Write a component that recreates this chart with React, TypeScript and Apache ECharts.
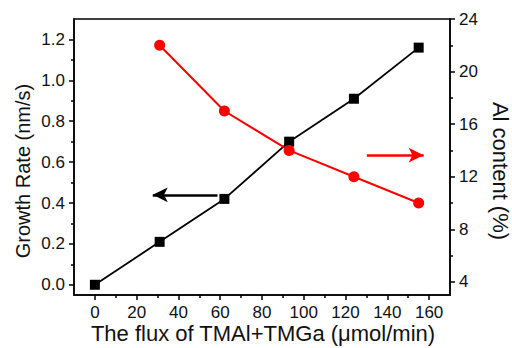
import React, { useEffect, useRef } from "react";
import * as echarts from "echarts";

const fluxGR = [0, 31, 62, 93, 124, 155];
const growthRate = [0, 0.21, 0.42, 0.7, 0.91, 1.16];
const fluxAl = [31, 62, 93, 124, 155];
const alContent = [22, 17, 14, 12, 10];

const xMajor = [0, 20, 40, 60, 80, 100, 120, 140, 160];
const xMinor = [10, 30, 50, 70, 90, 110, 130, 150];
const yLeftMajor = [0, 0.2, 0.4, 0.6, 0.8, 1.0, 1.2];
const yLeftMinor = [0.1, 0.3, 0.5, 0.7, 0.9, 1.1];
const yRightMajor = [4, 8, 12, 16, 20, 24];
const yRightMinor = [6, 10, 14, 18, 22];

const xTitle = "The flux of TMAl+TMGa (\u03bcmol/min)";
const yLeftTitle = "Growth Rate (nm/s)";
const yRightTitle = "Al content (%)";

// arrow annotations in data coordinates
const leftArrow = { from: [58.7, 0.44], to: [27.7, 0.44] };
const rightArrow = { from: [130.2, 13.64], to: [157.4, 13.64] };

const FONT = "'Liberation Sans', Arial, sans-serif";

export default function App() {
  const ref = useRef<HTMLDivElement>(null);
  useEffect(() => {
    if (!ref.current) return;
    const chart = echarts.init(ref.current, null, { renderer: "svg" });
    const axisLine = { show: true, onZero: false, lineStyle: { color: "#000", width: 1.5 } };
    const noLine = { show: false, onZero: false };
    const labelStyle = { fontSize: 17, color: "#111", fontFamily: FONT };
    const tickLine = { color: "#000", width: 1.5 };
    chart.setOption({
      animation: false,
      backgroundColor: "#fff",
      grid: {
        left: 74,
        right: 62,
        top: 19,
        bottom: 53,
        show: true,
        borderColor: "#000",
        borderWidth: 1.5,
        backgroundColor: "transparent",
      },
      xAxis: [
        {
          type: "value",
          min: -10,
          max: 170,
          position: "bottom",
          axisLine,
          axisTick: { show: true, customValues: xMajor, length: 5, lineStyle: tickLine },
          axisLabel: { ...labelStyle, customValues: xMajor, margin: 9 },
          splitLine: { show: false },
        },
        {
          type: "value",
          min: -10,
          max: 170,
          position: "bottom",
          offset: 0,
          axisLine: noLine,
          axisTick: { show: true, customValues: xMinor, length: 3, lineStyle: tickLine },
          axisLabel: { show: false },
          splitLine: { show: false },
        },
      ],
      yAxis: [
        {
          type: "value",
          min: -0.05,
          max: 1.3,
          position: "left",
          axisLine,
          axisTick: { show: true, customValues: yLeftMajor, length: 5, lineStyle: tickLine },
          axisLabel: {
            ...labelStyle,
            customValues: yLeftMajor,
            margin: 9,
            formatter: (v: number) => v.toFixed(1),
          },
          splitLine: { show: false },
        },
        {
          type: "value",
          min: 3,
          max: 24,
          position: "right",
          axisLine,
          axisTick: { show: true, customValues: yRightMajor, length: 5, lineStyle: tickLine },
          axisLabel: { ...labelStyle, customValues: yRightMajor, margin: 9 },
          splitLine: { show: false },
        },
        {
          type: "value",
          min: -0.05,
          max: 1.3,
          position: "left",
          offset: 0,
          axisLine: noLine,
          axisTick: { show: true, customValues: yLeftMinor, length: 3, lineStyle: tickLine },
          axisLabel: { show: false },
          splitLine: { show: false },
        },
        {
          type: "value",
          min: 3,
          max: 24,
          position: "right",
          offset: 0,
          axisLine: noLine,
          axisTick: { show: true, customValues: yRightMinor, length: 3, lineStyle: tickLine },
          axisLabel: { show: false },
          splitLine: { show: false },
        },
      ],
      series: [
        {
          type: "line",
          xAxisIndex: 0,
          yAxisIndex: 0,
          data: fluxGR.map((x, i) => [x, growthRate[i]]),
          symbol: "rect",
          symbolSize: 10,
          itemStyle: { color: "#000" },
          lineStyle: { color: "#000", width: 1.8 },
          markLine: {
            silent: true,
            symbol: ["none", "arrow"],
            symbolSize: [11, 15],
            label: { show: false },
            lineStyle: { color: "#000", width: 2.5, type: "solid" },
            emphasis: { disabled: true },
            data: [[{ coord: leftArrow.from }, { coord: leftArrow.to }]],
          },
        },
        {
          type: "line",
          xAxisIndex: 0,
          yAxisIndex: 1,
          data: fluxAl.map((x, i) => [x, alContent[i]]),
          symbol: "circle",
          symbolSize: 11,
          itemStyle: { color: "#ff0000" },
          lineStyle: { color: "#ff0000", width: 2 },
          markLine: {
            silent: true,
            symbol: ["none", "arrow"],
            symbolSize: [11, 15],
            label: { show: false },
            lineStyle: { color: "#ff0000", width: 2.5, type: "solid" },
            emphasis: { disabled: true },
            data: [[{ coord: rightArrow.from }, { coord: rightArrow.to }]],
          },
        },
      ],
      graphic: [
        {
          type: "text",
          x: 263,
          y: 333,
          style: { text: xTitle, fontSize: 22, fontFamily: FONT, fill: "#111", align: "center", verticalAlign: "middle" },
        },
        {
          type: "text",
          x: 23,
          y: 171,
          rotation: Math.PI / 2,
          style: { text: yLeftTitle, fontSize: 20, fontFamily: FONT, fill: "#111", align: "center", verticalAlign: "middle" },
        },
        {
          type: "text",
          x: 500,
          y: 171,
          rotation: -Math.PI / 2,
          style: { text: yRightTitle, fontSize: 22, fontFamily: FONT, fill: "#111", align: "center", verticalAlign: "middle" },
        },
      ],
    });
    return () => chart.dispose();
  }, []);
  return (
    <div
      ref={ref}
      style={{ position: "fixed", left: 0, top: 0, width: 512, height: 348 }}
    />
  );
}
